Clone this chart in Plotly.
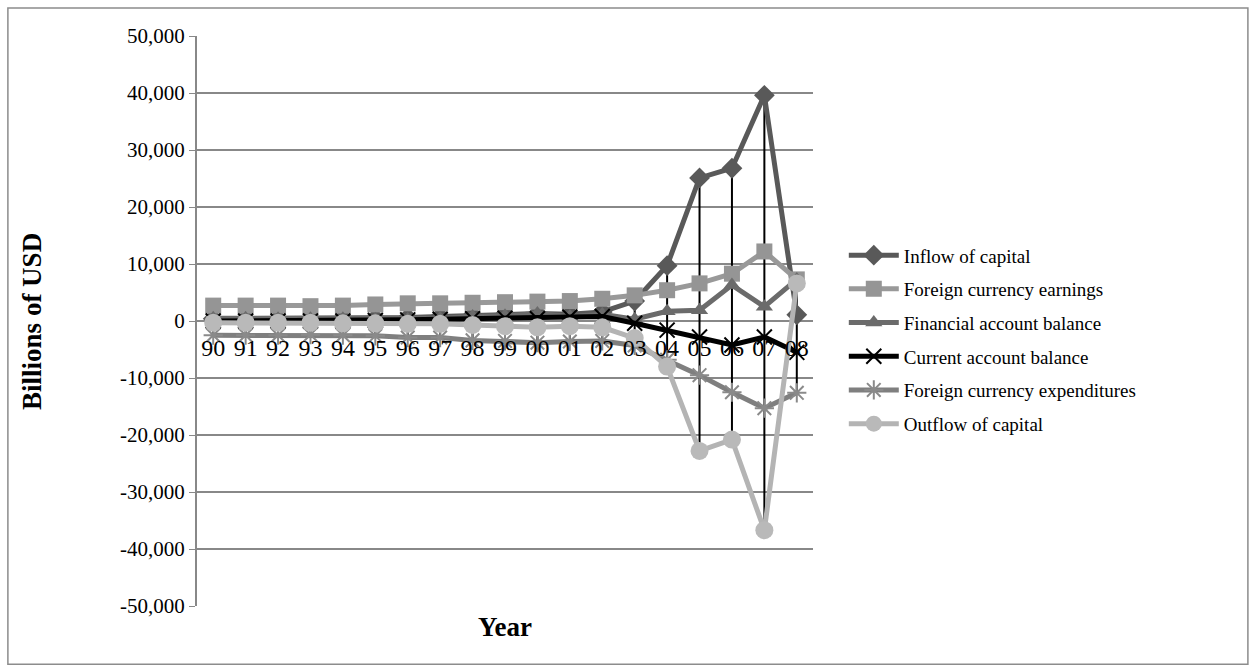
import plotly.graph_objects as go

# Balance-of-payments components, 1990-2008 (billions of USD)
years = ["90", "91", "92", "93", "94", "95", "96", "97", "98", "99",
         "00", "01", "02", "03", "04", "05", "06", "07", "08"]

inflow_of_capital = [400, 400, 400, 400, 500, 500, 600, 800, 1000, 1200,
                     1300, 1200, 1600, 3500, 9700, 25100, 26800, 39600, 1100]
foreign_currency_earnings = [2700, 2700, 2700, 2600, 2700, 2900, 3100, 3100, 3200, 3300,
                             3400, 3500, 3900, 4500, 5400, 6600, 8300, 12200, 7300]
financial_account_balance = [500, 500, 400, 400, 400, 300, 300, 500, 800, 900,
                             1300, 800, 1200, 300, 1700, 1900, 6300, 2500, 7300]
current_account_balance = [0, 0, 0, 0, 0, 100, 200, 300, 400, 500,
                           400, 700, 800, -400, -1600, -2800, -4200, -2800, -5500]
foreign_currency_expenditures = [-2500, -2500, -2500, -2400, -2500, -2600, -2900, -2900, -3400, -3500,
                                 -3800, -3600, -3500, -4300, -6800, -9500, -12500, -15300, -12600]
outflow_of_capital = [-300, -300, -300, -300, -400, -400, -500, -500, -700, -900,
                      -1100, -900, -1100, -3000, -8000, -22800, -20800, -36700, 6600]

y_ticks = [50000, 40000, 30000, 20000, 10000, 0, -10000, -20000, -30000, -40000, -50000]

series = [
    ("Inflow of capital", inflow_of_capital, "#595959", "#595959", "diamond", 16, 5),
    ("Foreign currency earnings", foreign_currency_earnings, "#999999", "#959595", "square", 16, 5),
    ("Financial account balance", financial_account_balance, "#6b6b6b", "#6b6b6b", "triangle-up", 15, 5),
    ("Current account balance", current_account_balance, "#000000", "#000000", "x-thin", 15, 5),
    ("Foreign currency expenditures", foreign_currency_expenditures, "#7f7f7f", "#8a8a8a", "asterisk-open", 16, 5),
    ("Outflow of capital", outflow_of_capital, "#b4b4b4", "#b9b9b9", "circle", 18, 5),
]

SERIF = "Liberation Serif"

fig = go.Figure()

# High-low lines: one vertical segment per year from the highest to the lowest series value
all_values = [s[1] for s in series]
hl_x, hl_y = [], []
for i, yr in enumerate(years):
    col = [v[i] for v in all_values]
    hl_x += [yr, yr, None]
    hl_y += [max(col), min(col), None]
fig.add_trace(go.Scatter(x=hl_x, y=hl_y, mode="lines",
                         line=dict(color="#000000", width=2),
                         showlegend=False, hoverinfo="skip"))

for name, vals, lcol, mcol, sym, msize, lw in series:
    marker = dict(symbol=sym, size=msize, color=mcol)
    if sym in ("x-thin", "asterisk-open"):
        marker["line"] = dict(color=mcol, width=2)
    fig.add_trace(go.Scatter(x=years, y=vals, name=name, legendgroup=name,
                             mode="lines+markers",
                             line=dict(color=lcol, width=lw), marker=marker))

# Outer chart border
fig.add_shape(type="rect", xref="paper", yref="paper",
              x0=-0.307, x1=1.706, y0=-0.102, y1=1.049,
              line=dict(color="#8c8c8c", width=1.5), fillcolor="rgba(0,0,0,0)")

# Axis titles
fig.add_annotation(text="<b>Year</b>", xref="paper", yref="paper",
                   x=0.5, y=-0.037, showarrow=False, yanchor="middle",
                   font=dict(family=SERIF, size=27, color="#000000"))
fig.add_annotation(text="<b>Billions of USD</b>", xref="paper", yref="paper",
                   x=-0.268, y=0.5, showarrow=False, textangle=-90,
                   xanchor="center", yanchor="middle",
                   font=dict(family=SERIF, size=27, color="#000000"))

fig.update_layout(
    width=1256, height=672,
    margin=dict(l=197, r=443, t=36, b=66),
    paper_bgcolor="white", plot_bgcolor="white",
    font=dict(family=SERIF, color="#000000"),
    xaxis=dict(type="category", categoryorder="array", categoryarray=years,
               range=[-0.5, 18.5], anchor="free", position=0.5,
               showgrid=False, showline=False, zeroline=False, ticks="",
               ticklabelstandoff=10,
               tickfont=dict(size=24, family=SERIF)),
    yaxis=dict(range=[-50000, 50000], tickvals=y_ticks,
               ticktext=[f"{v:,}" for v in y_ticks],
               showgrid=True, gridcolor="#888888", gridwidth=2,
               zeroline=False, showline=True, linecolor="#888888", linewidth=2,
               ticks="outside", ticklen=6, tickcolor="#888888",
               tickfont=dict(size=21, family=SERIF)),
    legend=dict(x=1.05, y=0.467, xanchor="left", yanchor="middle",
                font=dict(size=19, family=SERIF),
                traceorder="grouped", tracegroupgap=6,
                itemwidth=50, bgcolor="rgba(0,0,0,0)"),
    showlegend=True,
)

fig.write_html("out.html")
